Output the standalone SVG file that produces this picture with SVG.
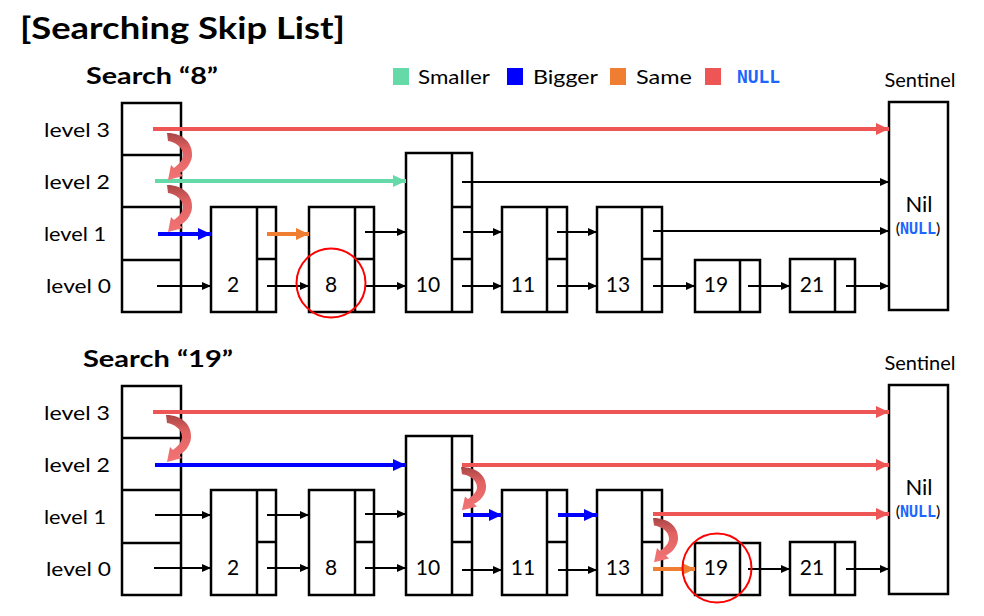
<svg xmlns="http://www.w3.org/2000/svg" width="984" height="616" viewBox="0 0 984 616">
<style>
text{font-family:Lato,"Noto Sans","DejaVu Sans",sans-serif;fill:#000}
.title{font-size:30px;font-weight:bold}
.sub{font-size:22px;font-weight:bold}
.leg{font-size:20px}
.lvl{font-size:20px}
.num{font-size:21px;text-anchor:middle}
.sent{font-size:20px;text-anchor:middle}
.nil{font-size:22px;text-anchor:middle}
.mono{font-family:"DejaVu Sans Mono","Liberation Mono",monospace;font-weight:bold;fill:#1a66ff}
.box{fill:#fff;stroke:#000;stroke-width:2.5}
.div{stroke:#000;stroke-width:2.5;fill:none}
.blk{stroke:#000;stroke-width:2;fill:none;marker-end:url(#mBlk)}
.red{stroke:#ee5555;stroke-width:4;fill:none;marker-end:url(#mRed)}
.grn{stroke:#66d9a8;stroke-width:4;fill:none;marker-end:url(#mGrn)}
.blu{stroke:#0000ff;stroke-width:4;fill:none;marker-end:url(#mBlu)}
.org{stroke:#ef7d32;stroke-width:4;fill:none;marker-end:url(#mOrg)}
.ring{fill:none;stroke:#ff0000;stroke-width:2}
.curve{fill:url(#gCurve)}
</style>
<defs>
<marker id="mBlk" markerUnits="userSpaceOnUse" markerWidth="10" markerHeight="8" refX="9" refY="4" orient="auto"><path d="M0,0 L9,4 L0,8 z" fill="#000"/></marker>
<marker id="mRed" markerUnits="userSpaceOnUse" markerWidth="14" markerHeight="12" refX="13" refY="6" orient="auto"><path d="M0,0 L13,6 L0,12 z" fill="#ee5555"/></marker>
<marker id="mGrn" markerUnits="userSpaceOnUse" markerWidth="14" markerHeight="12" refX="13" refY="6" orient="auto"><path d="M0,0 L13,6 L0,12 z" fill="#66d9a8"/></marker>
<marker id="mBlu" markerUnits="userSpaceOnUse" markerWidth="14" markerHeight="12" refX="13" refY="6" orient="auto"><path d="M0,0 L13,6 L0,12 z" fill="#0000ff"/></marker>
<marker id="mOrg" markerUnits="userSpaceOnUse" markerWidth="14" markerHeight="12" refX="13" refY="6" orient="auto"><path d="M0,0 L13,6 L0,12 z" fill="#ef7d32"/></marker>
<linearGradient id="gCurve" x1="0" y1="0" x2="0" y2="1">
<stop offset="0" stop-color="#a94545"/>
<stop offset="0.35" stop-color="#e26262"/>
<stop offset="1" stop-color="#f27474"/>
</linearGradient>
<path id="curveArrow" d="M0,0 C16,0 26,10 25,23 C24,31 19,37 13,40 L16,43 L1,47 L4,32 L7,35 C12,31 16,27 16,22 C16,14 8,9 1,8 Z"/>
</defs>
<rect width="984" height="616" fill="#fff"/>

<text class="title" x="20" y="39" textLength="325" lengthAdjust="spacingAndGlyphs">[Searching Skip List]</text>

<g id="legend">
<rect x="393" y="68" width="16" height="17" fill="#66d9a8"/>
<text class="leg" x="418" y="84" textLength="72" lengthAdjust="spacingAndGlyphs">Smaller</text>
<rect x="507" y="68" width="16" height="17" fill="#0000ff"/>
<text class="leg" x="533" y="84" textLength="65" lengthAdjust="spacingAndGlyphs">Bigger</text>
<rect x="610" y="68" width="16" height="17" fill="#ef7d32"/>
<text class="leg" x="636" y="84" textLength="56" lengthAdjust="spacingAndGlyphs">Same</text>
<rect x="705" y="68" width="16" height="17" fill="#ee5555"/>
<text class="mono" x="737" y="83" font-size="18" textLength="43" lengthAdjust="spacingAndGlyphs">NULL</text>
</g>

<!-- ===== TOP: Search 8 ===== -->
<text class="sub" x="86" y="84" textLength="132" lengthAdjust="spacingAndGlyphs">Search “8”</text>
<g id="labels-top">
<text class="lvl" x="44" y="137" textLength="66" lengthAdjust="spacingAndGlyphs">level 3</text>
<text class="lvl" x="44" y="189" textLength="66" lengthAdjust="spacingAndGlyphs">level 2</text>
<text class="lvl" x="44" y="241" textLength="62" lengthAdjust="spacingAndGlyphs">level 1</text>
<text class="lvl" x="46" y="293" textLength="65" lengthAdjust="spacingAndGlyphs">level 0</text>
</g>

<g id="top-header">
<rect class="box" x="122" y="103" width="59" height="209"/>
<path class="div" d="M122,155H181M122,207H181M122,260H181"/>
</g>
<g id="top-node-2">
<rect class="box" x="211" y="207" width="65" height="105"/>
<path class="div" d="M257,207V312M257,259H276"/>
<text class="num" x="233" y="292">2</text>
</g>
<g id="top-node-8">
<rect class="box" x="309" y="207" width="65" height="105"/>
<path class="div" d="M355,207V312M355,259H374"/>
<text class="num" x="331" y="292">8</text>
</g>
<g id="top-node-10">
<rect class="box" x="406" y="153" width="66" height="159"/>
<path class="div" d="M452,153V312M452,207H472M452,259H472"/>
<text class="num" x="428" y="292">10</text>
</g>
<g id="top-node-11">
<rect class="box" x="502" y="207" width="65" height="105"/>
<path class="div" d="M547,207V312M547,259H567"/>
<text class="num" x="523" y="292">11</text>
</g>
<g id="top-node-13">
<rect class="box" x="597" y="207" width="65" height="105"/>
<path class="div" d="M642,207V312M642,259H662"/>
<text class="num" x="618" y="292">13</text>
</g>
<g id="top-node-19">
<rect class="box" x="695" y="260" width="65" height="52"/>
<path class="div" d="M740,260V312"/>
<text class="num" x="716" y="292">19</text>
</g>
<g id="top-node-21">
<rect class="box" x="790" y="259" width="65" height="53"/>
<path class="div" d="M835,259V312"/>
<text class="num" x="812" y="292">21</text>
</g>
<g id="top-sentinel">
<text class="sent" x="920" y="87">Sentinel</text>
<rect class="box" x="889" y="102" width="59" height="208"/>
<text class="nil" x="919" y="212">Nil</text>
<text x="918" y="234" font-size="16" text-anchor="middle">(<tspan class="mono" font-size="15">NULL</tspan>)</text>
</g>

<g id="top-connectors">
<line class="red" x1="153" y1="129" x2="889" y2="129"/>
<line class="grn" x1="155" y1="181" x2="406" y2="181"/>
<line class="blu" x1="158" y1="234" x2="211" y2="234"/>
<line class="org" x1="267" y1="234" x2="309" y2="234"/>
<line class="blk" x1="157" y1="286" x2="211" y2="286"/>
<line class="blk" x1="267" y1="286" x2="309" y2="286"/>
<line class="blk" x1="365" y1="232" x2="406" y2="232"/>
<line class="blk" x1="365" y1="286" x2="406" y2="286"/>
<line class="blk" x1="462" y1="182" x2="889" y2="182"/>
<line class="blk" x1="463" y1="232" x2="502" y2="232"/>
<line class="blk" x1="462" y1="286" x2="502" y2="286"/>
<line class="blk" x1="557" y1="232" x2="597" y2="232"/>
<line class="blk" x1="557" y1="286" x2="597" y2="286"/>
<line class="blk" x1="653" y1="231" x2="889" y2="231"/>
<line class="blk" x1="653" y1="286" x2="695" y2="286"/>
<line class="blk" x1="748" y1="286" x2="790" y2="286"/>
<line class="blk" x1="846" y1="286" x2="889" y2="286"/>
<use href="#curveArrow" class="curve" transform="translate(167,133)"/>
<use href="#curveArrow" class="curve" transform="translate(167,185)"/>
<circle class="ring" cx="331" cy="283" r="34.5"/>
</g>

<!-- ===== BOTTOM: Search 19 ===== -->
<text class="sub" x="83" y="367" textLength="150" lengthAdjust="spacingAndGlyphs">Search “19”</text>
<g id="labels-bottom">
<text class="lvl" x="44" y="420" textLength="66" lengthAdjust="spacingAndGlyphs">level 3</text>
<text class="lvl" x="44" y="472" textLength="66" lengthAdjust="spacingAndGlyphs">level 2</text>
<text class="lvl" x="44" y="524" textLength="62" lengthAdjust="spacingAndGlyphs">level 1</text>
<text class="lvl" x="46" y="576" textLength="65" lengthAdjust="spacingAndGlyphs">level 0</text>
</g>

<g id="bottom-header">
<rect class="box" x="122" y="386" width="59" height="209"/>
<path class="div" d="M122,438H181M122,490H181M122,543H181"/>
</g>
<g id="bottom-node-2">
<rect class="box" x="211" y="490" width="65" height="105"/>
<path class="div" d="M257,490V595M257,542H276"/>
<text class="num" x="233" y="575">2</text>
</g>
<g id="bottom-node-8">
<rect class="box" x="309" y="490" width="65" height="105"/>
<path class="div" d="M355,490V595M355,542H374"/>
<text class="num" x="331" y="575">8</text>
</g>
<g id="bottom-node-10">
<rect class="box" x="406" y="436" width="66" height="159"/>
<path class="div" d="M452,436V595M452,490H472M452,542H472"/>
<text class="num" x="428" y="575">10</text>
</g>
<g id="bottom-node-11">
<rect class="box" x="502" y="490" width="65" height="105"/>
<path class="div" d="M547,490V595M547,542H567"/>
<text class="num" x="523" y="575">11</text>
</g>
<g id="bottom-node-13">
<rect class="box" x="597" y="490" width="65" height="105"/>
<path class="div" d="M642,490V595M642,542H662"/>
<text class="num" x="618" y="575">13</text>
</g>
<g id="bottom-node-19">
<rect class="box" x="695" y="543" width="65" height="52"/>
<path class="div" d="M740,543V595"/>
<text class="num" x="716" y="575">19</text>
</g>
<g id="bottom-node-21">
<rect class="box" x="790" y="542" width="65" height="53"/>
<path class="div" d="M835,542V595"/>
<text class="num" x="812" y="575">21</text>
</g>
<g id="bottom-sentinel">
<text class="sent" x="920" y="370">Sentinel</text>
<rect class="box" x="889" y="385" width="59" height="209"/>
<text class="nil" x="919" y="495">Nil</text>
<text x="918" y="517" font-size="16" text-anchor="middle">(<tspan class="mono" font-size="15">NULL</tspan>)</text>
</g>

<g id="bottom-connectors">
<line class="red" x1="153" y1="412" x2="889" y2="412"/>
<line class="blu" x1="155" y1="465" x2="406" y2="465"/>
<line class="blk" x1="155" y1="515" x2="211" y2="515"/>
<line class="blk" x1="154" y1="568" x2="211" y2="568"/>
<line class="blk" x1="267" y1="515" x2="309" y2="515"/>
<line class="blk" x1="267" y1="568" x2="309" y2="568"/>
<line class="blk" x1="365" y1="514" x2="406" y2="514"/>
<line class="blk" x1="365" y1="568" x2="406" y2="568"/>
<line class="red" x1="462" y1="465" x2="889" y2="465"/>
<line class="blu" x1="463" y1="515" x2="502" y2="515"/>
<line class="blu" x1="558" y1="515" x2="597" y2="515"/>
<line class="blk" x1="462" y1="570" x2="502" y2="570"/>
<line class="blk" x1="558" y1="570" x2="597" y2="570"/>
<line class="red" x1="653" y1="514" x2="889" y2="514"/>
<line class="org" x1="653" y1="569" x2="695" y2="569"/>
<line class="blk" x1="748" y1="569" x2="790" y2="569"/>
<line class="blk" x1="846" y1="569" x2="889" y2="569"/>
<use href="#curveArrow" class="curve" transform="translate(166,415)"/>
<use href="#curveArrow" class="curve" transform="translate(461,467) scale(1,0.92)"/>
<use href="#curveArrow" class="curve" transform="translate(653,518) scale(1,0.94)"/>
<circle class="ring" cx="717" cy="568" r="34.5"/>
</g>
</svg>
